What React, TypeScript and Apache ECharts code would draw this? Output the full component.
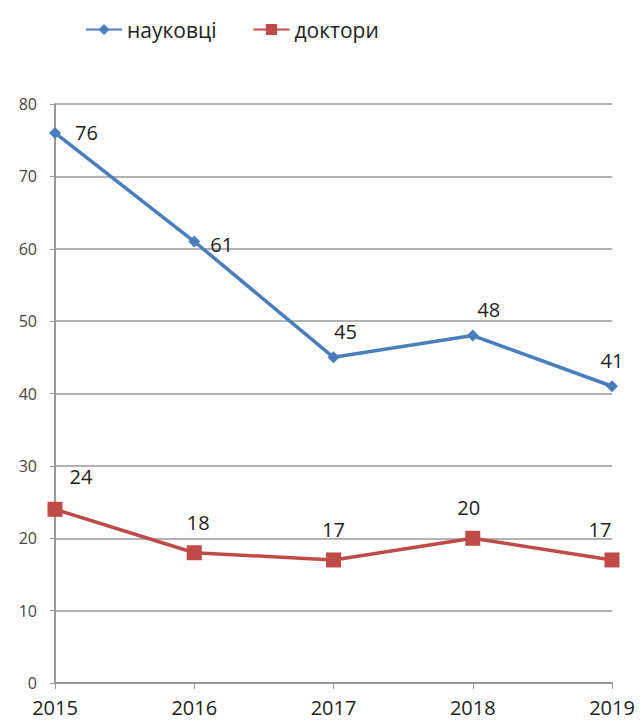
import React, { useEffect, useRef } from "react";
import * as echarts from "echarts";

const years = ["2015", "2016", "2017", "2018", "2019"];
const scientists = [76, 61, 45, 48, 41];
const doctors = [24, 18, 17, 20, 17];
const yTicks = { min: 0, max: 80, interval: 10 };

export default function App() {
  const ref = useRef<HTMLDivElement>(null);
  useEffect(() => {
    if (!ref.current) return;
    const chart = echarts.init(ref.current, null, { renderer: "svg" });
    const font = "Open Sans, DejaVu Sans, sans-serif";
    const blueLabelPos = ["right", "right", "top", "top", "top"];
    const blueLabelOff = [[6, 0], [2, 3], [12, -2], [16, -2], [0, -2]];
    const redLabelOff = [[26, -10], [4, -8], [0, -8], [-4, -8], [-12, -8]];
    chart.setOption({
      animation: false,
      textStyle: { fontFamily: font },
      legend: {
        top: 14,
        left: 80,
        itemGap: 36,
        itemWidth: 36,
        itemHeight: 14,
        textStyle: { fontSize: 21, color: "#222", fontFamily: font },
        data: ["науковці", "доктори"],
      },
      grid: { left: 55, right: 31, top: 104, bottom: 44 },
      xAxis: {
        type: "category",
        data: years,
        boundaryGap: false,
        axisLine: { lineStyle: { color: "#999", width: 2 } },
        axisTick: { show: true, length: 6, lineStyle: { color: "#999" } },
        axisLabel: { fontSize: 20, color: "#222", margin: 14, fontFamily: font },
      },
      yAxis: {
        type: "value",
        ...yTicks,
        axisLine: { show: true, lineStyle: { color: "#999", width: 2 } },
        axisTick: { show: true, length: 5, lineStyle: { color: "#999" } },
        splitLine: { lineStyle: { color: "#999", width: 1.5 } },
        axisLabel: { fontSize: 16, color: "#444", margin: 18, fontFamily: font },
      },
      series: [
        {
          name: "науковці",
          type: "line",
          data: scientists.map((v, i) => ({
            value: v,
            label: { position: blueLabelPos[i], offset: blueLabelOff[i] },
          })),
          symbol: "diamond",
          symbolSize: 12,
          itemStyle: { color: "#4a7ebb" },
          lineStyle: { color: "#4a7ebb", width: 3.5 },
          label: { show: true, fontSize: 20, color: "#222", fontFamily: font, distance: 8 },
        },
        {
          name: "доктори",
          type: "line",
          data: doctors.map((v, i) => ({
            value: v,
            label: { offset: redLabelOff[i] },
          })),
          symbol: "rect",
          symbolSize: 15,
          itemStyle: { color: "#be4b48" },
          lineStyle: { color: "#be4b48", width: 3.5 },
          label: { show: true, position: "top", fontSize: 20, color: "#222", fontFamily: font },
        },
      ],
    });
    return () => chart.dispose();
  }, []);
  return (
    <div
      ref={ref}
      style={{ position: "fixed", left: 0, top: 0, width: 643, height: 727, background: "#fff" }}
    />
  );
}
